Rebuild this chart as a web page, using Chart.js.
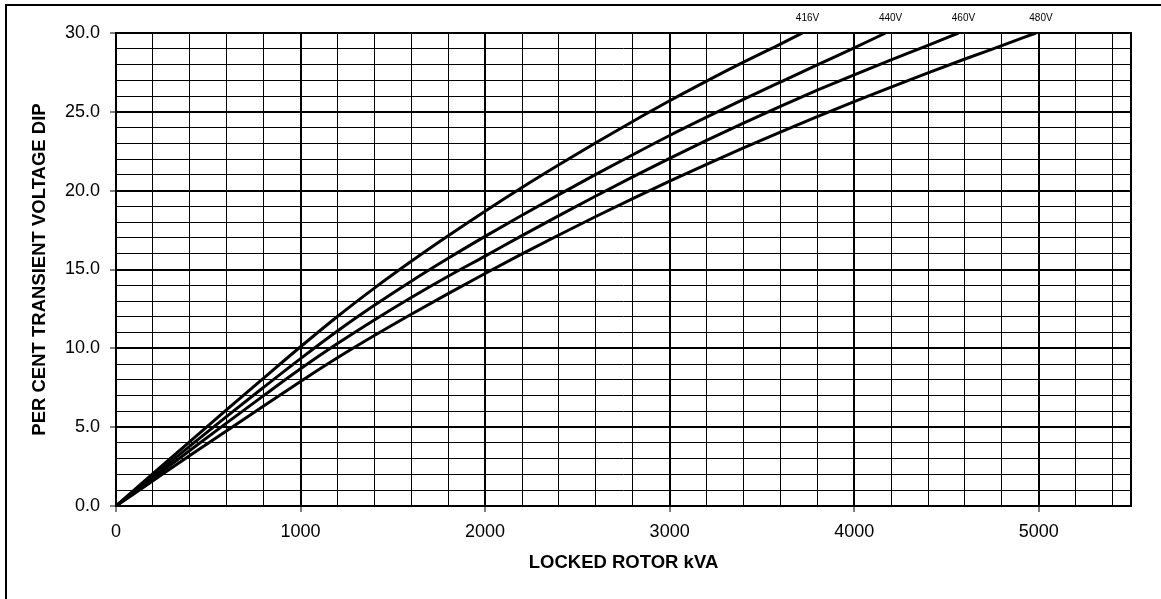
<!DOCTYPE html>
<html>
<head>
<meta charset="utf-8">
<title>Transient voltage dip vs locked rotor kVA</title>
<script src="https://cdn.jsdelivr.net/npm/chart.js@4/dist/chart.umd.min.js"></script>
<style>
  html, body { margin: 0; padding: 0; background: #fff; }
  canvas { display: block; }
</style>
</head>
<body>
<canvas id="dip-chart" width="1161" height="599"></canvas>
<script>
// ── Data ─────────────────────────────────────────────────────────────────────
const SERIES_LABELS = ['416V', '440V', '460V', '480V'];

const KVA_416 = [0, 200, 400, 600, 800, 1000, 1200, 1400, 1600, 1800, 2000, 2200, 2400, 2600, 2800, 3000, 3200, 3400, 3600, 3720];
const DIP_416 = [0, 2.05, 4.09, 6.11, 8.11, 10.1, 12.02, 13.82, 15.52, 17.14, 18.7, 20.2, 21.64, 23.04, 24.39, 25.7, 26.95, 28.15, 29.3, 30.0];

const KVA_440 = [0, 200, 400, 600, 800, 1000, 1200, 1400, 1600, 1800, 2000, 2200, 2400, 2600, 2800, 3000, 3200, 3400, 3600, 3800, 4000, 4170];
const DIP_440 = [0, 1.9, 3.8, 5.68, 7.53, 9.35, 11.1, 12.73, 14.26, 15.71, 17.1, 18.44, 19.75, 21.03, 22.28, 23.5, 24.66, 25.79, 26.89, 27.98, 29.05, 30.0];

const KVA_460 = [0, 200, 400, 600, 800, 1000, 1200, 1400, 1600, 1800, 2000, 2200, 2400, 2600, 2800, 3000, 3200, 3400, 3600, 3800, 4000, 4200, 4400, 4565];
const DIP_460 = [0, 1.76, 3.52, 5.27, 7.0, 8.7, 10.3, 11.8, 13.22, 14.57, 15.85, 17.15, 18.42, 19.66, 20.87, 22.05, 23.19, 24.29, 25.35, 26.37, 27.35, 28.3, 29.22, 30.0];

const KVA_480 = [0, 200, 400, 600, 800, 1000, 1200, 1400, 1600, 1800, 2000, 2200, 2400, 2600, 2800, 3000, 3200, 3400, 3600, 3800, 4000, 4200, 4400, 4600, 4800, 4985];
const DIP_480 = [0, 1.6, 3.2, 4.78, 6.35, 7.9, 9.4, 10.81, 12.16, 13.47, 14.75, 15.99, 17.19, 18.36, 19.5, 20.6, 21.67, 22.71, 23.72, 24.7, 25.65, 26.57, 27.47, 28.35, 29.2, 30.0];

const X_MIN = 0, X_MAX = 5500, X_STEP = 200, X_MAJOR = 1000;
const Y_MIN = 0, Y_MAX = 30, Y_STEP = 1, Y_MAJOR = 5;

const X_TITLE = 'LOCKED ROTOR kVA';
const Y_TITLE = 'PER CENT TRANSIENT VOLTAGE DIP';

// ── Helpers ──────────────────────────────────────────────────────────────────
const FONT = '"Liberation Sans", Arial, Helvetica, sans-serif';

function toPoints(xs, ys) {
  return xs.map((x, i) => ({ x, y: ys[i] }));
}

function curve(label, xs, ys) {
  return {
    label,
    data: toPoints(xs, ys),
    borderColor: '#000',
    borderWidth: 3,
    pointRadius: 0,
    fill: false,
    cubicInterpolationMode: 'monotone',
  };
}

const isMajor = (v, step) => Math.abs(v % step) < 1e-6;

// white page, frame round the plot, border lines of the sheet
const framePlugin = {
  id: 'frame',
  beforeDraw(chart) {
    const { ctx, width, height } = chart;
    ctx.save();
    ctx.fillStyle = '#fff';
    ctx.fillRect(0, 0, width, height);
    ctx.restore();
  },
  afterDraw(chart) {
    const { ctx, chartArea: a, width, height } = chart;
    ctx.save();
    ctx.strokeStyle = '#000';
    ctx.lineWidth = 2;
    ctx.strokeRect(a.left, a.top, a.right - a.left, a.bottom - a.top);

    // sheet border (top + left only, picture is cropped)
    ctx.beginPath();
    ctx.moveTo(6, height);
    ctx.lineTo(6, 5);
    ctx.lineTo(width, 5);
    ctx.stroke();

    // voltage labels above each curve end
    const xs = chart.scales.x;
    ctx.fillStyle = '#000';
    ctx.font = '10px ' + FONT;
    ctx.textAlign = 'center';
    ctx.textBaseline = 'middle';
    chart.data.datasets.forEach(ds => {
      const last = ds.data[ds.data.length - 1];
      ctx.fillText(ds.label, xs.getPixelForValue(last.x) + 5, 18);
    });
    ctx.restore();
  }
};

// ── Chart ────────────────────────────────────────────────────────────────────
const ctx = document.getElementById('dip-chart').getContext('2d');
new Chart(ctx, {
  type: 'line',
  data: {
    datasets: [
      curve(SERIES_LABELS[0], KVA_416, DIP_416),
      curve(SERIES_LABELS[1], KVA_440, DIP_440),
      curve(SERIES_LABELS[2], KVA_460, DIP_460),
      curve(SERIES_LABELS[3], KVA_480, DIP_480),
    ]
  },
  options: {
    responsive: false,
    animation: false,
    layout: { padding: { left: 0, right: 30, top: 33, bottom: 0 } },
    plugins: {
      legend: { display: false },
      tooltip: { enabled: false },
    },
    scales: {
      x: {
        type: 'linear',
        min: X_MIN, max: X_MAX,
        afterFit: s => { s.height = 93; },
        border: { display: false },
        grid: {
          color: '#000',
          lineWidth: c => isMajor(c.tick.value, X_MAJOR) ? 2 : 1,
          tickLength: 6,
          tickColor: c => isMajor(c.tick.value, X_MAJOR) ? '#000' : 'rgba(0,0,0,0)',
          tickWidth: 1,
        },
        ticks: {
          stepSize: X_STEP,
          includeBounds: false,
          autoSkip: false,
          maxRotation: 0,
          padding: 9,
          color: '#000',
          font: { family: FONT, size: 18 },
          callback: v => isMajor(v, X_MAJOR) ? String(v) : '',
        },
        title: {
          display: true,
          text: X_TITLE,
          color: '#000',
          font: { family: FONT, size: 18.5, weight: 'bold' },
          padding: { top: 0, bottom: 25 },
        }
      },
      y: {
        type: 'linear',
        min: Y_MIN, max: Y_MAX,
        afterFit: s => { s.width = 116; },
        border: { display: false },
        grid: {
          color: '#000',
          lineWidth: c => isMajor(c.tick.value, Y_MAJOR) ? 2 : 1,
          tickLength: 6,
          tickColor: c => isMajor(c.tick.value, Y_MAJOR) ? '#000' : 'rgba(0,0,0,0)',
          tickWidth: 1,
        },
        ticks: {
          stepSize: Y_STEP,
          autoSkip: false,
          padding: 10,
          color: '#000',
          font: { family: FONT, size: 18 },
          callback: v => isMajor(v, Y_MAJOR) ? v.toFixed(1) : '',
        },
        title: {
          display: true,
          text: Y_TITLE,
          color: '#000',
          font: { family: FONT, size: 18.5, weight: 'bold' },
          padding: { top: 29, bottom: 0 },
        }
      }
    }
  },
  plugins: [framePlugin]
});
</script>
</body>
</html>
